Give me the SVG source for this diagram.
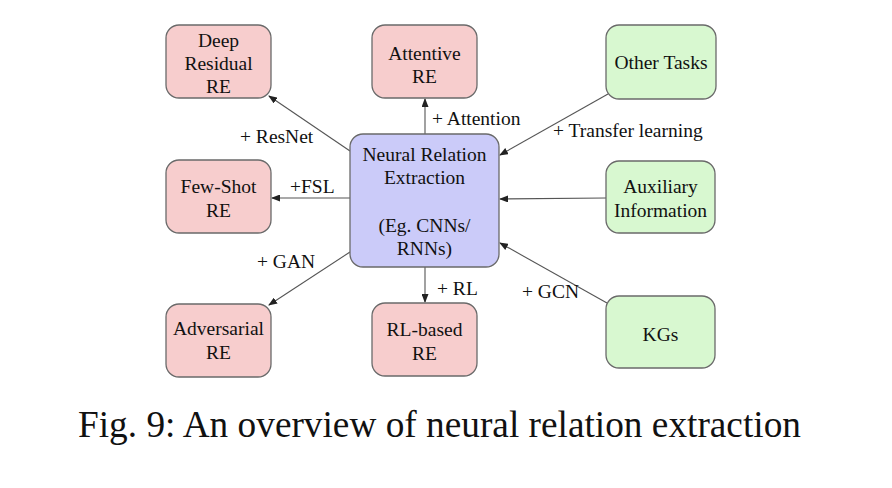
<svg xmlns="http://www.w3.org/2000/svg" width="892" height="488" viewBox="0 0 892 488">
<defs>
<style>
.t{font-size:19.5px;fill:#111;text-anchor:middle}
.l{font-size:19.5px;fill:#111}
.red{fill:#f7cdcd;stroke:#6a6a6a;stroke-width:1.3}
.blue{fill:#cbcbf9;stroke:#6a6a6a;stroke-width:1.3}
.green{fill:#d8f8d0;stroke:#6a6a6a;stroke-width:1.3}
.c{stroke:#555;stroke-width:1.1;fill:none;marker-end:url(#ah)}
</style>
<marker id="ah" markerWidth="9" markerHeight="7" refX="8" refY="3.5" orient="auto" markerUnits="userSpaceOnUse">
<path d="M0,0 L9,3.5 L0,7 Z" fill="#222"/>
</marker>
</defs>
<rect width="892" height="488" fill="#fff"/>
<g font-family="Liberation Serif, Times New Roman, serif">
<g id="connectors">
<line class="c" x1="425" y1="134" x2="425" y2="99"/>
<line class="c" x1="350" y1="151" x2="269" y2="96"/>
<line class="c" x1="608" y1="94" x2="500" y2="155"/>
<line class="c" x1="606" y1="198" x2="500" y2="199"/>
<line class="c" x1="607" y1="303" x2="500" y2="243"/>
<line class="c" x1="425" y1="267" x2="425" y2="302"/>
<line class="c" x1="350" y1="198" x2="272" y2="198"/>
<line class="c" x1="350" y1="252" x2="269" y2="305"/>
<text class="l" x="240" y="143">+ ResNet</text>
<text class="l" x="432" y="125">+ Attention</text>
<text class="l" x="553" y="137">+ Transfer learning</text>
<text class="l" x="290" y="193">+FSL</text>
<text class="l" x="257" y="268">+ GAN</text>
<text class="l" x="437" y="295">+ RL</text>
<text class="l" x="522" y="298">+ GCN</text>
</g>
<g id="deep-residual">
<rect class="red" x="166" y="25" width="105" height="73" rx="13"/>
<text class="t" x="218.5" y="47">Deep</text>
<text class="t" x="218.5" y="70">Residual</text>
<text class="t" x="218.5" y="93">RE</text>
</g>
<g id="attentive">
<rect class="red" x="372" y="25" width="105" height="73" rx="13"/>
<text class="t" x="424.5" y="60">Attentive</text>
<text class="t" x="424.5" y="83">RE</text>
</g>
<g id="other-tasks">
<rect class="green" x="606" y="25" width="110" height="74" rx="13"/>
<text class="t" x="661" y="69">Other Tasks</text>
</g>
<g id="neural-re">
<rect class="blue" x="350" y="134" width="149" height="133" rx="13"/>
<text class="t" x="424.5" y="161">Neural Relation</text>
<text class="t" x="424.5" y="184">Extraction</text>
<text class="t" x="424.5" y="232">(Eg. CNNs/</text>
<text class="t" x="424.5" y="255">RNNs)</text>
</g>
<g id="few-shot">
<rect class="red" x="166" y="160" width="105" height="73" rx="13"/>
<text class="t" x="218.5" y="193">Few-Shot</text>
<text class="t" x="218.5" y="217">RE</text>
</g>
<g id="auxiliary">
<rect class="green" x="606" y="161" width="109" height="72" rx="13"/>
<text class="t" x="660.5" y="193">Auxiliary</text>
<text class="t" x="660.5" y="217">Information</text>
</g>
<g id="adversarial">
<rect class="red" x="166" y="304" width="105" height="73" rx="13"/>
<text class="t" x="218.5" y="335">Adversarial</text>
<text class="t" x="218.5" y="359">RE</text>
</g>
<g id="rl-based">
<rect class="red" x="372" y="303" width="105" height="73" rx="13"/>
<text class="t" x="424.5" y="336">RL-based</text>
<text class="t" x="424.5" y="360">RE</text>
</g>
<g id="kgs">
<rect class="green" x="606" y="296" width="109" height="72" rx="13"/>
<text class="t" x="660.5" y="341">KGs</text>
</g>
<text x="78" y="437" font-size="37.3" fill="#111">Fig. 9: An overview of neural relation extraction</text>
</g>
</svg>
